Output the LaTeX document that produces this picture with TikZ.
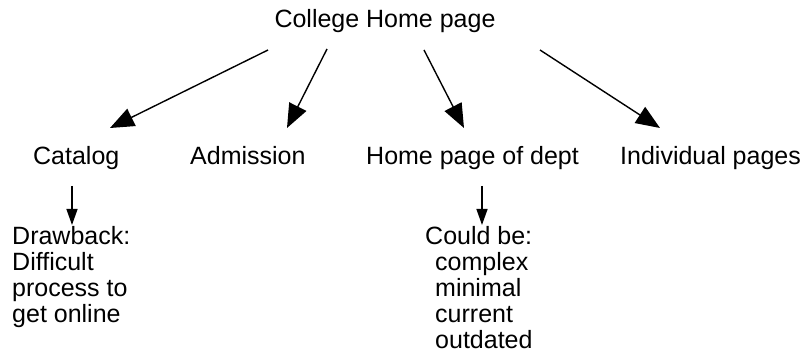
\documentclass[tikz,border=0pt]{standalone}
\usepackage{fontspec}
\setmainfont{Liberation Sans}
\usetikzlibrary{arrows.meta}
\begin{document}
\begin{tikzpicture}[x=1pt,y=-1pt,
  lbl/.style={inner sep=0pt, font=\fontsize{25}{26}\selectfont},
  bigarrow/.style={line width=1.4pt, -{Triangle[length=24pt,width=19pt]}},
  smallarrow/.style={line width=1.4pt, -{Triangle[length=16pt,width=11pt]}}]
\useasboundingbox (0,0) rectangle (804,352);
\node[lbl, anchor=base] (top) at (385,28) {College Home page};
\node[lbl, anchor=base west] (catalog) at (33,165) {Catalog};
\node[lbl, anchor=base west] (admission) at (190,165) {Admission};
\node[lbl, anchor=base west] (dept) at (366,165) {Home page of dept};
\node[lbl, anchor=base west] (indiv) at (620,165) {Individual pages};
\node[lbl, anchor=north west, align=left] (drawback) at (12,226) {Drawback:\\Difficult\\process to\\get online};
\node[lbl, anchor=north west, align=left] (could) at (425,226) {Could be:\\\hspace*{10pt}complex\\\hspace*{10pt}minimal\\\hspace*{10pt}current\\\hspace*{10pt}outdated};
% connector end points
\coordinate (s1) at (268,50); \coordinate (e1) at (110,128);
\coordinate (s2) at (327,49); \coordinate (e2) at (287,128);
\coordinate (s3) at (424,50); \coordinate (e3) at (464,128);
\coordinate (s4) at (540,50); \coordinate (e4) at (660,128);
\coordinate (s5) at (72,186); \coordinate (e5) at (72,225);
\coordinate (s6) at (482,186); \coordinate (e6) at (482,225);
\draw[bigarrow] (s1) -- (e1);
\draw[bigarrow] (s2) -- (e2);
\draw[bigarrow] (s3) -- (e3);
\draw[bigarrow] (s4) -- (e4);
\draw[smallarrow] (s5) -- (e5);
\draw[smallarrow] (s6) -- (e6);
\end{tikzpicture}
\end{document}
